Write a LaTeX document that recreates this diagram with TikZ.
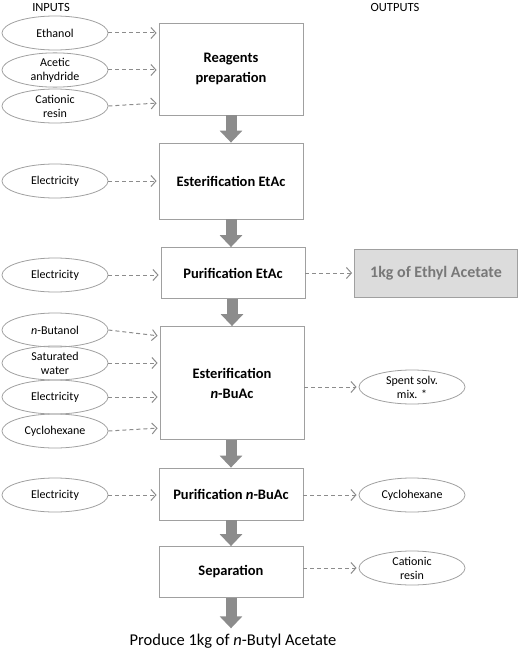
\documentclass[tikz,border=0pt]{standalone}
\usepackage{fontspec}
\setmainfont{Carlito}
\usetikzlibrary{shapes.geometric,arrows.meta,calc}

\definecolor{boxgray}{RGB}{160,160,160}
\definecolor{arrowgray}{RGB}{140,140,140}
\definecolor{outfill}{RGB}{220,220,220}
\definecolor{outtext}{RGB}{120,120,120}

\tikzset{
  stepbox/.style={draw=boxgray,line width=0.8pt,minimum width=144pt,align=center,
    font=\bfseries\fontsize{14.5}{20}\selectfont},
  flowin/.style={ellipse,draw=boxgray,line width=0.8pt,minimum width=106pt,
    minimum height=34pt,inner sep=0pt,align=center,font=\fontsize{12}{14}\selectfont},
  mainflow/.style={draw=arrowgray,line width=11pt,-{Triangle[length=12pt,width=22pt]}},
  sideflow/.style={draw=arrowgray,line width=1pt,dash pattern=on 4pt off 3pt,
    -{Straight Barb[length=5pt,width=11pt]},shorten >=2pt},
}

\begin{document}
\begin{tikzpicture}[x=1pt,y=-1pt]
	\useasboundingbox (0,0) rectangle (520,650);
	% headings
	\node[font=\fontsize{12.5}{14}\selectfont] (inputs) at (51,7) {INPUTS};
	\node[font=\fontsize{12.5}{14}\selectfont] (outputs) at (395,7) {OUTPUTS};

	% process steps
	\node[stepbox,minimum height=92pt] (rp) at (231,69) {Reagents\\preparation};
	\node[stepbox,minimum height=76pt] (ee) at (231,181) {Esterification EtAc};
	\node[stepbox,minimum height=51pt] (pe) at (233,273) {Purification EtAc};
	\node[stepbox,minimum height=113pt] (eb) at (232,383) {Esterification\\\textit{n}-BuAc};
	\node[stepbox,minimum height=52pt] (pb) at (231,494) {Purification \textit{n}-BuAc};
	\node[stepbox,minimum height=51pt] (sep) at (231,572) {Separation};
	\node[font=\fontsize{16.5}{19}\selectfont] (prod) at (233,641) {Produce 1kg of \textit{n}-Butyl Acetate};
	\node[draw=boxgray,fill=outfill,line width=0.8pt,minimum width=163pt,minimum height=48pt,
		text=outtext,font=\bfseries\fontsize{16}{19}\selectfont] (etac) at (436,273) {1kg of Ethyl Acetate};

	% inputs
	\node[flowin] (eth) at (55,33) {Ethanol};
	\node[flowin] (acan) at (55,70) {Acetic\\anhydride};
	\node[flowin] (catin) at (55,106) {Cationic\\resin};
	\node[flowin] (el1) at (55,181) {Electricity};
	\node[flowin] (el2) at (55,275) {Electricity};
	\node[flowin] (nbu) at (55,330) {\textit{n}-Butanol};
	\node[flowin] (satw) at (55,363) {Saturated\\water};
	\node[flowin] (el3) at (55,397) {Electricity};
	\node[flowin] (cyin) at (55,431) {Cyclohexane};
	\node[flowin] (el4) at (55,495) {Electricity};

	% outputs
	\node[flowin] (spent) at (412,387) {Spent solv.\\mix. *};
	\node[flowin] (cyout) at (412,495) {Cyclohexane};
	\node[flowin] (catout) at (412,568) {Cationic\\resin};

	% main flow
	\draw[mainflow] (rp.south) -- (ee.north);
	\draw[mainflow] (ee.south) -- (pe.north -| ee.south);
	\draw[mainflow] (pe.south -| eb.north) -- (eb.north);
	\draw[mainflow] (eb.south -| pb.north) -- (pb.north);
	\draw[mainflow] (pb.south) -- (sep.north);
	\draw[mainflow] (sep.south) -- ([yshift=2pt]prod.north -| sep.south);

	% side flows in
	\draw[sideflow] (eth.east) -- (eth.east -| rp.west);
	\draw[sideflow] (acan.east) -- (acan.east -| rp.west);
	\draw[sideflow] (catin.east) -- ([yshift=3pt]catin.east -| rp.west);
	\draw[sideflow] (el1.east) -- (el1.east -| ee.west);
	\draw[sideflow] (el2.east) -- (el2.east -| pe.west);
	\draw[sideflow] (nbu.east) -- ([yshift=-6pt]nbu.east -| eb.west);
	\draw[sideflow] (satw.east) -- (satw.east -| eb.west);
	\draw[sideflow] (el3.east) -- (el3.east -| eb.west);
	\draw[sideflow] (cyin.east) -- ([yshift=3pt]cyin.east -| eb.west);
	\draw[sideflow] (el4.east) -- (el4.east -| pb.west);

	% side flows out
	\draw[sideflow] (pe.east) -- (etac.west);
	\draw[sideflow] (eb.east |- spent.west) -- (spent.west);
	\draw[sideflow] (pb.east |- cyout.west) -- (cyout.west);
	\draw[sideflow] (sep.east |- catout.west) -- (catout.west);
\end{tikzpicture}
\end{document}
